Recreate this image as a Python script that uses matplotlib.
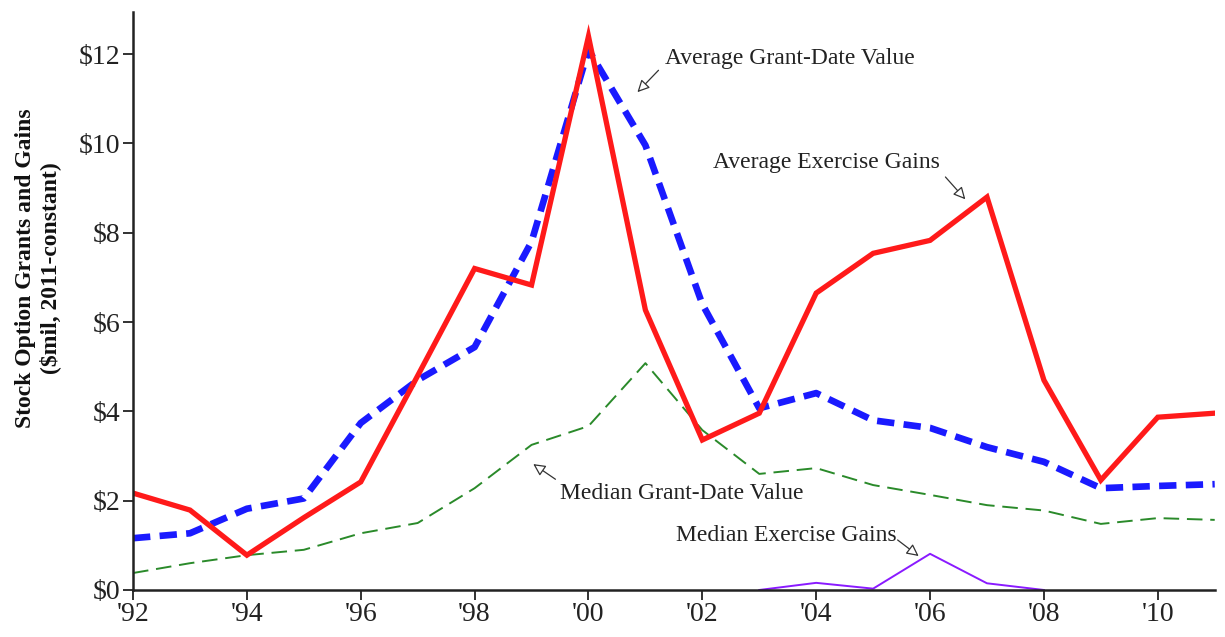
import numpy as np
import matplotlib
matplotlib.use("Agg")
import matplotlib.pyplot as plt

plt.rcParams['font.family'] = ['Liberation Serif', 'DejaVu Serif']

years = np.arange(1992, 2012)
# average exercise gains ($mil)
avg_exercise = [2.17, 1.79, 0.78, 1.62, 2.42, 4.8, 7.2, 6.83, 12.4, 6.27,
                3.36, 3.96, 6.65, 7.54, 7.83, 8.8, 4.7, 2.46, 3.87, 3.96]
# average grant-date value
avg_grant = [1.16, 1.27, 1.82, 2.05, 3.74, 4.7, 5.44, 7.8, 12.1, 9.96,
             6.4, 4.07, 4.41, 3.8, 3.63, 3.2, 2.87, 2.28, 2.33, 2.37]
# median grant-date value
med_grant = [0.38, 0.6, 0.78, 0.9, 1.27, 1.5, 2.28, 3.25, 3.67, 5.08,
             3.58, 2.6, 2.73, 2.35, 2.13, 1.9, 1.78, 1.48, 1.61, 1.57]
# median exercise gains (only shown from '03)
med_exercise = [np.nan] * 11 + [0.0, 0.16, 0.03, 0.81, 0.15, 0.0] + [np.nan] * 3

xtick_years = np.arange(1992, 2012, 2)
xtick_labels = ["'92", "'94", "'96", "'98", "'00", "'02", "'04", "'06", "'08", "'10"]
ytick_vals = np.arange(0, 13, 2)
ytick_labels = ["$0", "$2", "$4", "$6", "$8", "$10", "$12"]

fig = plt.figure(figsize=(12.25, 6.37), dpi=100)
ax = fig.add_axes([0.1086, 0.0738, 0.883, 0.907])

ax.plot(years, med_grant, color='#2a8a2a', lw=1.4, dashes=(8, 4))
ax.plot(years, med_exercise, color='#8a1aff', lw=1.4)
ax.plot(years, avg_grant, color='#1a1aff', lw=4.8, dashes=(2.6, 1.4))
ax.plot(years, avg_exercise, color='#ff1a1a', lw=3.8, solid_joinstyle='miter')

ax.set_xlim(1992, 2011)
ax.set_ylim(0, 12.94)
ax.set_xticks(xtick_years)
ax.set_xticklabels(xtick_labels)
ax.set_yticks(ytick_vals)
ax.set_yticklabels(ytick_labels)
ax.tick_params(direction='out', length=7, width=1.3, labelsize=20, colors='#222222', pad=2)
for s in ['top', 'right']:
    ax.spines[s].set_visible(False)
for s in ['left', 'bottom']:
    ax.spines[s].set_linewidth(1.8)
    ax.spines[s].set_color('#222222')

# y label placed by hand, it sits a bit above the axes middle
fig.text(0.031, 0.579, "Stock Option Grants and Gains\n($mil, 2011-constant)",
         rotation=90, ha='center', va='center', fontsize=17, fontweight='bold',
         linespacing=1.2, color='#111111')

# labels and their little arrows
arrow = dict(arrowstyle='-|>', color='#333333', lw=0.9, fc='white',
             mutation_scale=18, shrinkA=0, shrinkB=0)
tkw = dict(fontsize=17, color='#222222', va='center', ha='left')
ax.text(2001.35, 11.91, "Average Grant-Date Value", **tkw)
ax.annotate("", xy=(2000.86, 11.15), xytext=(2001.23, 11.64), arrowprops=arrow)
ax.text(2002.19, 9.58, "Average Exercise Gains", **tkw)
ax.annotate("", xy=(2006.62, 8.75), xytext=(2006.27, 9.25), arrowprops=arrow)
ax.text(1999.5, 2.17, "Median Grant-Date Value", **tkw)
ax.annotate("", xy=(1999.03, 2.82), xytext=(1999.42, 2.48), arrowprops=arrow)
ax.text(2001.53, 1.23, "Median Exercise Gains", **tkw)
ax.annotate("", xy=(2005.8, 0.76), xytext=(2005.43, 1.12), arrowprops=arrow)

fig.savefig("out.png", dpi=100)
